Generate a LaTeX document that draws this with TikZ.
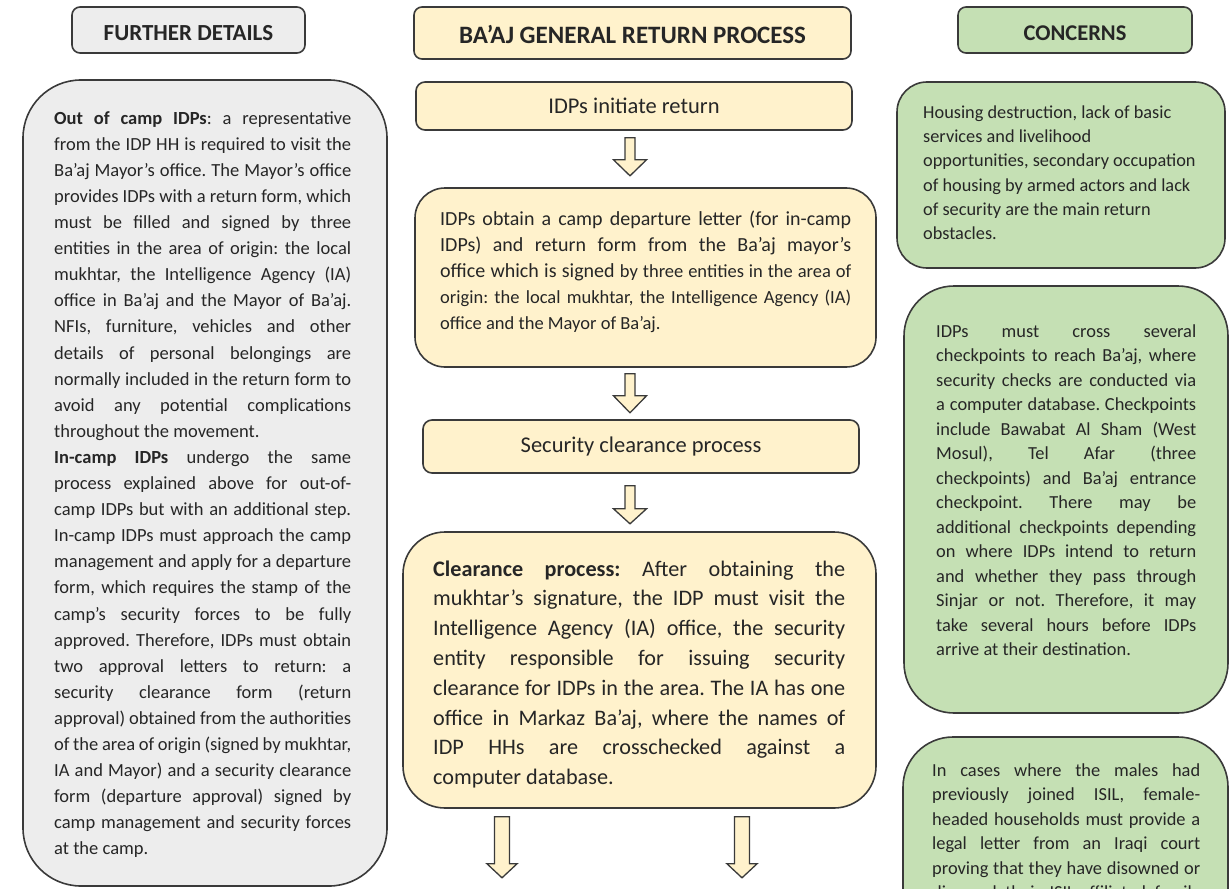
\documentclass[tikz,border=0pt]{standalone}
\usepackage{fontspec}
\setmainfont{Carlito}
\usetikzlibrary{calc}
\setlength\parindent{0pt}
\frenchspacing
\definecolor{graybox}{HTML}{EDEDED}
\definecolor{yellowbox}{HTML}{FFF2CC}
\definecolor{greenbox}{HTML}{C5E0B4}
\definecolor{edge}{HTML}{3A3A3A}
\definecolor{ink}{HTML}{262626}
\newcommand\jline[1]{\leavevmode\hbox to \hsize{\spaceskip=0pt\xspaceskip=0pt\relax #1}}
\newcommand\lline[1]{\leavevmode\hbox to \hsize{\spaceskip=0pt\xspaceskip=0pt\relax #1\hfil}}
\newcommand\blockarrow[5]{%
  \draw[fatarr] ($#1+(-#2,0)$) -- ++(2*#2,0) -- ++(0,#3) -- ++(#4-#2,0)
    -- ++(-#4,#5) -- ++(-#4,-#5) -- ++(#4-#2,0) -- cycle;}
\begin{document}
\begin{tikzpicture}[x=1pt,y=-1pt,
  boxbase/.style={draw=edge, line width=1.6pt, inner sep=0pt, text=ink},
  hdrbox/.style={boxbase, rounded corners=8pt, text depth=0pt},
  stepbox/.style={boxbase, fill=yellowbox, rounded corners=9pt, font=\fontsize{22.5}{27}\selectfont},
  bodytext/.style={inner sep=0pt, anchor=north west, align=left, text=ink},
  fatarr/.style={draw=edge, line width=1.3pt, fill=yellowbox, line join=miter}
]
\useasboundingbox (0,0) rectangle (1230,888);
\clip (0,0) rectangle (1230,888);
\coordinate (axis) at (630,0);

% headers
\node[hdrbox, fill=graybox, minimum width=233pt, minimum height=46pt, text height=20.8pt, font=\fontsize{23}{27}\selectfont\bfseries] (hdrL) at (188.5,30) {FURTHER DETAILS};
\node[hdrbox, fill=yellowbox, minimum width=437pt, minimum height=52pt, text height=20.1pt, font=\fontsize{25}{29}\selectfont\bfseries] (hdrC) at (632.5,33) {BA’AJ GENERAL RETURN PROCESS};
\node[hdrbox, fill=greenbox, minimum width=234pt, minimum height=46pt, text height=20.5pt, font=\fontsize{22.5}{27}\selectfont\bfseries] (hdrR) at (1075,30) {CONCERNS};

% centre column
\node[stepbox, minimum width=436pt, minimum height=48pt] (init) at (634,106) {IDPs initiate return};
\node[boxbase, fill=yellowbox, rounded corners=30pt, minimum width=461pt, minimum height=179pt] (obtain) at (645.5,277.5) {};
\node[stepbox, minimum width=436pt, minimum height=53pt] (secur) at (641,446.5) {Security clearance process};
\node[boxbase, fill=yellowbox, rounded corners=42pt, minimum width=473pt, minimum height=276pt] (clear) at (639.5,670) {};

% left column
\node[boxbase, fill=graybox, rounded corners=58pt, minimum width=364pt, minimum height=806pt] (left) at (205,483) {};

% right column
\node[boxbase, fill=greenbox, rounded corners=30pt, minimum width=328pt, minimum height=186pt] (r1) at (1061,175) {};
\node[boxbase, fill=greenbox, rounded corners=50pt, minimum width=324pt, minimum height=427pt] (r2) at (1066,499.5) {};
\node[boxbase, fill=greenbox, rounded corners=50pt, minimum width=325pt, minimum height=223pt] (r3) at (1065.5,848.5) {};

% block arrows
\blockarrow{(init.south -| axis)+(0,7)}{5}{22}{16.5}{16}
\blockarrow{(obtain.south -| axis)+(0,6)}{5}{22}{16.5}{17}
\blockarrow{(secur.south -| axis)+(0,12)}{5}{23}{16.5}{15}
\blockarrow{(clear.south)+(-137.5,8)}{7.5}{47}{15}{14}
\blockarrow{(clear.south)+(102.5,8)}{7.5}{47}{15}{14}

% texts
\node[bodytext, text width=297pt, font=\fontsize{18.5}{26.1}\selectfont] (leftT) at (54,105.7) {%
\jline{\strut\textbf{Out of camp IDPs}: a representative}\\
\jline{from the IDP HH is required to visit the}\\
\jline{Ba’aj Mayor’s office. The Mayor’s office}\\
\jline{provides IDPs with a return form, which}\\
\jline{must be filled and signed by three}\\
\jline{entities in the area of origin: the local}\\
\jline{mukhtar, the Intelligence Agency (IA)}\\
\jline{office in Ba’aj and the Mayor of Ba’aj.}\\
\jline{NFIs, furniture, vehicles and other}\\
\jline{details of personal belongings are}\\
\jline{normally included in the return form to}\\
\jline{avoid any potential complications}\\
\lline{throughout the movement.}\\
\jline{\textbf{In-camp IDPs} undergo the same}\\
\jline{process explained above for out-of-}\\
\jline{camp IDPs but with an additional step.}\\
\jline{In-camp IDPs must approach the camp}\\
\jline{management and apply for a departure}\\
\jline{form, which requires the stamp of the}\\
\jline{camp’s security forces to be fully}\\
\jline{approved. Therefore, IDPs must obtain}\\
\jline{two approval letters to return: a}\\
\jline{security clearance form (return}\\
\jline{approval) obtained from the authorities}\\
\jline{of the area of origin (signed by mukhtar,}\\
\jline{IA and Mayor) and a security clearance}\\
\jline{form (departure approval) signed by}\\
\jline{camp management and security forces}\\
\lline{at the camp.}};

\node[bodytext, text width=411pt, font=\fontsize{20}{26}\selectfont] (obtainT) at (440,206.8) {%
\jline{\strut IDPs obtain a camp departure letter (for in-camp}\\
\jline{IDPs) and return form from the Ba’aj mayor’s}\\
\jline{office which is signed {\fontsize{18.5}{26}\selectfont by three entities in the area of}}\\
{\fontsize{18.5}{26}\selectfont\jline{origin: the local mukhtar, the Intelligence Agency (IA)}\\
\lline{office and the Mayor of Ba’aj.}}};

\node[bodytext, text width=412pt, font=\fontsize{22.2}{29.8}\selectfont] (clearT) at (433,555.1) {%
\jline{\strut\textbf{Clearance process:} After obtaining the}\\
\jline{mukhtar’s signature, the IDP must visit the}\\
\jline{Intelligence Agency (IA) office, the security}\\
\jline{entity responsible for issuing security}\\
\jline{clearance for IDPs in the area. The IA has one}\\
\jline{office in Markaz Ba’aj, where the names of}\\
\jline{IDP HHs are crosschecked against a}\\
\lline{computer database.}};

\node[bodytext, text width=280pt, font=\fontsize{18.3}{24.3}\selectfont] (r1T) at (923,101) {%
\lline{\strut Housing destruction, lack of basic}\\
\lline{services and livelihood}\\
\lline{opportunities, secondary occupation}\\
\lline{of housing by armed actors and lack}\\
\lline{of security are the main return}\\
\lline{obstacles.}};

\node[bodytext, text width=260pt, font=\fontsize{18.4}{24.5}\selectfont] (r2T) at (936,319.9) {%
\jline{\strut IDPs must cross several}\\
\jline{checkpoints to reach Ba’aj, where}\\
\jline{security checks are conducted via}\\
\jline{a computer database. Checkpoints}\\
\jline{include Bawabat Al Sham (West}\\
\jline{Mosul), Tel Afar (three}\\
\jline{checkpoints) and Ba’aj entrance}\\
\jline{checkpoint. There may be}\\
\jline{additional checkpoints depending}\\
\jline{on where IDPs intend to return}\\
\jline{and whether they pass through}\\
\jline{Sinjar or not. Therefore, it may}\\
\jline{take several hours before IDPs}\\
\lline{arrive at their destination.}};

\node[bodytext, text width=268pt, font=\fontsize{18.4}{24.5}\selectfont] (r3T) at (932,758.9) {%
\jline{\strut In cases where the males had}\\
\jline{previously joined ISIL, female-}\\
\jline{headed households must provide a}\\
\jline{legal letter from an Iraqi court}\\
\jline{proving that they have disowned or}\\
\jline{divorced their ISIL-affiliated family}};
\end{tikzpicture}
\end{document}
